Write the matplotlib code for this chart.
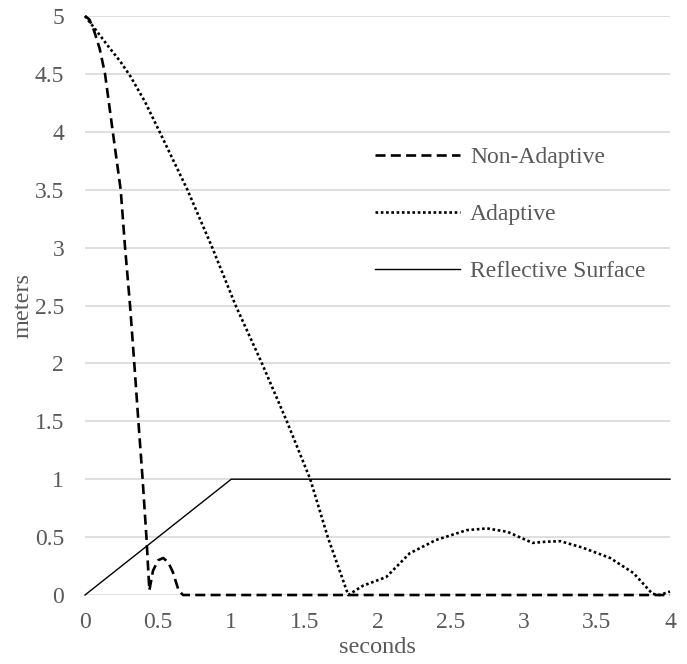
import matplotlib.pyplot as plt

# time (s) and height (m)
non_adaptive_t = [0, 0.03, 0.06, 0.10, 0.137, 0.19, 0.244, 0.274, 0.308, 0.337, 0.365, 0.394, 0.42, 0.44,
                  0.465, 0.5, 0.535, 0.57, 0.60, 0.64, 0.67, 4.0]
non_adaptive_h = [5, 4.97, 4.88, 4.72, 4.5, 4.0, 3.5, 3.0, 2.5, 2.0, 1.5, 1.0, 0.5, 0.04,
                  0.21, 0.30, 0.32, 0.28, 0.20, 0.04, 0.0, 0.0]

adaptive_t = [0, 0.08, 0.17, 0.24, 0.31, 0.41, 0.51, 0.70, 0.87, 1.03, 1.21, 1.38, 1.54, 1.66, 1.80,
              1.90, 2.06, 2.22, 2.40, 2.61, 2.75, 2.89, 3.06, 3.15, 3.25, 3.40, 3.59, 3.75,
              3.88, 3.93, 4.0]
adaptive_h = [5, 4.87, 4.72, 4.61, 4.48, 4.26, 4.0, 3.5, 3.0, 2.5, 2.0, 1.5, 1.0, 0.5, 0.0,
              0.08, 0.155, 0.36, 0.475, 0.56, 0.575, 0.545, 0.45, 0.46, 0.465, 0.41, 0.32, 0.19,
              0.01, 0.0, 0.03]

surface_t = [0, 1, 4]
surface_h = [0, 1, 1]

plt.rcParams['font.family'] = ['Liberation Serif', 'DejaVu Serif']
grey = '#595959'

fig = plt.figure(figsize=(6.87, 6.64), dpi=100)
ax = fig.add_axes([85 / 687, 1 - 595 / 664, 585 / 687, 579 / 664])

ax.plot(non_adaptive_t, non_adaptive_h, color='black', lw=1.9,
        linestyle=(0, (3.8, 2.0)), label='Non-Adaptive')
ax.plot(adaptive_t, adaptive_h, color='black', lw=1.9,
        linestyle=(0, (1, 1)), label='Adaptive')
ax.plot(surface_t, surface_h, color='black', lw=1.0, label='Reflective Surface')

ax.set_xlim(0, 4)
ax.set_ylim(0, 5)
ax.set_xticks([0, 0.5, 1, 1.5, 2, 2.5, 3, 3.5, 4])
ax.set_xticklabels(['0', '0.5', '1', '1.5', '2', '2.5', '3', '3.5', '4'])
ax.set_yticks([0, 0.5, 1, 1.5, 2, 2.5, 3, 3.5, 4, 4.5, 5])
ax.set_yticklabels(['0', '0.5', '1', '1.5', '2', '2.5', '3', '3.5', '4', '4.5', '5'])
ax.tick_params(axis='both', length=0, labelsize=17, labelcolor=grey)
ax.tick_params(axis='y', pad=15)
ax.tick_params(axis='x', pad=12)
ax.grid(axis='y', color='#d9d9d9', lw=1.2)
ax.set_axisbelow(True)
for s in ax.spines.values():
    s.set_visible(False)
for line in ax.lines:
    line.set_clip_on(False)

ax.set_xlabel('seconds', fontsize=17.5, color=grey, labelpad=3)
ax.set_ylabel('meters', fontsize=17.5, color=grey, labelpad=1)

leg = ax.legend(loc='center left', bbox_to_anchor=(0.496, 0.657), frameon=False,
                fontsize=17, handlelength=3.6, labelspacing=1.5, borderpad=0,
                borderaxespad=0, handletextpad=0.42)
for t in leg.get_texts():
    t.set_color(grey)

fig.savefig('out.png', dpi=100)
